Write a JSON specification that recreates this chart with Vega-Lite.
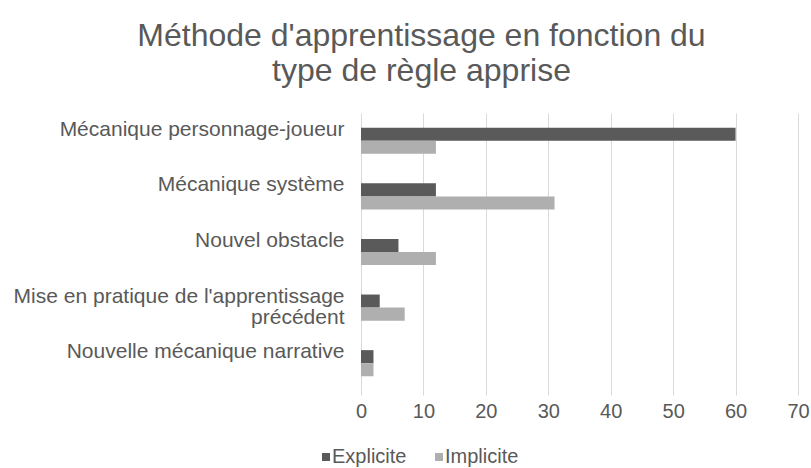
{
  "$schema": "https://vega.github.io/schema/vega-lite/v6.json",
  "width": 437,
  "height": 278,
  "autosize": {"type": "none"},
  "padding": {"left": 361, "top": 113, "right": 13, "bottom": 77},
  "background": "white",
  "config": {
    "font": "Liberation Sans",
    "view": {"stroke": null}
  },
  "title": {
    "text": ["Méthode d'apprentissage en fonction du", "type de règle apprise"],
    "anchor": "middle",
    "dx": -158,
    "offset": 25,
    "fontSize": 32,
    "fontWeight": "normal",
    "color": "#595959",
    "lineHeight": 35,
    "font": "Liberation Sans"
  },
  "data": {
    "values": [
      {"categorie": "Mécanique personnage-joueur", "methode": "Explicite", "valeur": 60},
      {"categorie": "Mécanique personnage-joueur", "methode": "Implicite", "valeur": 12},
      {"categorie": "Mécanique système", "methode": "Explicite", "valeur": 12},
      {"categorie": "Mécanique système", "methode": "Implicite", "valeur": 31},
      {"categorie": "Nouvel obstacle", "methode": "Explicite", "valeur": 6},
      {"categorie": "Nouvel obstacle", "methode": "Implicite", "valeur": 12},
      {"categorie": "Mise en pratique de l'apprentissage précédent", "methode": "Explicite", "valeur": 3},
      {"categorie": "Mise en pratique de l'apprentissage précédent", "methode": "Implicite", "valeur": 7},
      {"categorie": "Nouvelle mécanique narrative", "methode": "Explicite", "valeur": 2},
      {"categorie": "Nouvelle mécanique narrative", "methode": "Implicite", "valeur": 2}
    ]
  },
  "mark": {"type": "bar"},
  "encoding": {
    "y": {
      "field": "categorie",
      "type": "nominal",
      "sort": null,
      "scale": {"paddingInner": 0.53, "paddingOuter": 0.265},
      "axis": {
        "title": null,
        "domain": false,
        "ticks": false,
        "labelFontSize": 21,
        "labelColor": "#595959",
        "labelPadding": 17,
        "labelBaseline": "alphabetic",
        "labelOffset": -5,
        "labelLineHeight": 21,
        "labelLimit": 400,
        "labelExpr": "indexof(datum.value, 'précédent') > 0 ? [replace(datum.value, ' précédent', ''), 'précédent'] : datum.value"
      }
    },
    "yOffset": {"field": "methode", "type": "nominal", "scale": {"paddingInner": 0, "paddingOuter": 0}},
    "x": {
      "field": "valeur",
      "type": "quantitative",
      "scale": {"domain": [0, 70], "nice": false},
      "axis": {
        "title": null,
        "domain": false,
        "ticks": true,
        "tickSize": 4,
        "tickColor": "#d9d9d9",
        "values": [0, 10, 20, 30, 40, 50, 60, 70],
        "grid": true,
        "gridColor": "#d9d9d9",
        "labelFontSize": 20,
        "labelColor": "#595959",
        "labelPadding": 6,
        "labelFlush": false
      }
    },
    "color": {
      "field": "methode",
      "type": "nominal",
      "scale": {"domain": ["Explicite", "Implicite"], "range": ["#5a5a5a", "#afafaf"]},
      "legend": {
        "title": null,
        "orient": "none",
        "direction": "horizontal",
        "legendX": -45,
        "legendY": 334,
        "symbolType": "square",
        "symbolSize": 64,
        "symbolStrokeWidth": 0,
        "labelFontSize": 20,
        "labelColor": "#595959",
        "labelOffset": -4,
        "columnPadding": 22
      }
    }
  }
}
